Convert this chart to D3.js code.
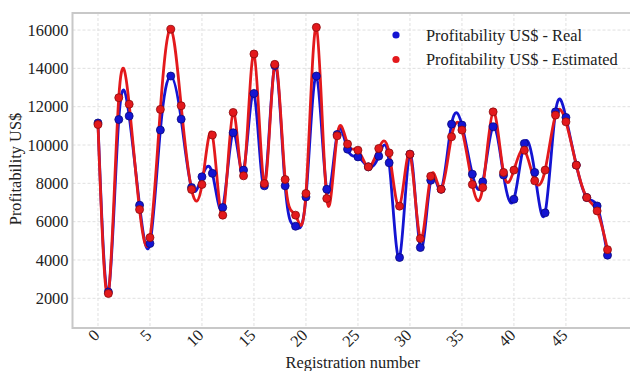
<!DOCTYPE html>
<html>
<head>
<meta charset="utf-8">
<script src="https://cdn.jsdelivr.net/npm/d3@7"></script>
<style>
  html, body { margin: 0; padding: 0; background: #fff; }
  svg { display: block; }
  text { font-family: "Liberation Serif", "Times New Roman", serif; fill: #222; }
</style>
</head>
<body>
<svg id="chart" width="630" height="371"></svg>
<script>
// Registration numbers (x) and profitability per record (US$)
const registration = d3.range(0, 50);
const realProfit = [11150, 2330, 11330, 11510, 6860, 4860, 10780, 13600, 11350, 7780,
                    8340, 8520, 6740, 10640, 8690, 12690, 7870, 14150, 7870, 5760,
                    7290, 13600, 7690, 10550, 9780, 9380, 8860, 9420, 9070, 4130,
                    9520, 4650, 8160, 7690, 11090, 11040, 8480, 8080, 10950, 8430,
                    7170, 10080, 8570, 6460, 11730, 11440, 8950, 7260, 6820, 4250];
const estimatedProfit = [11070, 2250, 12470, 12130, 6630, 5170, 11860, 16040, 12050, 7680,
                         7940, 10520, 6340, 11700, 8390, 14750, 7990, 14210, 8200, 6340,
                         7470, 16140, 7210, 10480, 10050, 9730, 8860, 9820, 9590, 6810,
                         9520, 5120, 8370, 7690, 10430, 10780, 7940, 7780, 11730, 8570,
                         8690, 9730, 8130, 8690, 11560, 11210, 8950, 7260, 6560, 4540];
const xTicks = [0, 5, 10, 15, 20, 25, 30, 35, 40, 45];
const yTicks = [2000, 4000, 6000, 8000, 10000, 12000, 14000, 16000];
const seriesNames = ["Profitability US$ - Real", "Profitability US$ - Estimated"];
const seriesColors = ["#1414d2", "#e3191c"];
const seriesEdges = ["#0a0a7a", "#8a0a0c"];

const svg = d3.select("#chart");
const plot = { left: 72.5, right: 633, top: 13, bottom: 328 };

const x = d3.scaleLinear().domain([-2.45, 51.45]).range([plot.left, plot.right]);
const y = d3.scaleLinear().domain([450, 16890]).range([plot.bottom, plot.top]);

// grid
const grid = svg.append("g");
grid.selectAll("line.gx").data(xTicks).join("line")
  .attr("x1", d => x(d)).attr("x2", d => x(d))
  .attr("y1", plot.top).attr("y2", plot.bottom)
  .attr("stroke", "#dcdcdc").attr("stroke-width", 0.9).attr("stroke-dasharray", "3,2");
grid.selectAll("line.gy").data(yTicks).join("line")
  .attr("x1", plot.left).attr("x2", plot.right)
  .attr("y1", d => y(d)).attr("y2", d => y(d))
  .attr("stroke", "#dcdcdc").attr("stroke-width", 0.9).attr("stroke-dasharray", "3,2");

// axes frame
const frame = svg.append("g").attr("fill", "none").attr("stroke", "#c8c8c8").attr("stroke-width", 2);
frame.append("path").attr("d", `M${plot.right},${plot.top}H${plot.left}V${plot.bottom}H${plot.right}`);

// y tick labels
const yAxis = d3.axisLeft(y).tickValues(yTicks).tickSize(0).tickPadding(4).tickFormat(d3.format("d"));
const gy = svg.append("g").attr("transform", `translate(${plot.left},0)`).call(yAxis);
gy.select(".domain").remove();
gy.selectAll("text").attr("font-size", "16.4px").attr("fill", "#222")
  .style("font-family", '"Liberation Serif", serif');

// x tick labels, rotated
const xAxis = d3.axisBottom(x).tickValues(xTicks).tickSize(0).tickFormat(d3.format("d"));
const gx = svg.append("g").attr("transform", `translate(0,${plot.bottom})`).call(xAxis);
gx.select(".domain").remove();
gx.selectAll(".tick text")
  .attr("font-size", "16.4px").attr("fill", "#222")
  .style("font-family", '"Liberation Serif", serif')
  .attr("text-anchor", "end")
  .attr("dy", "0.35em")
  .attr("transform", "translate(-4,2) rotate(-45)");

// axis titles
svg.append("text").attr("x", (plot.left + plot.right) / 2).attr("y", 368)
  .attr("text-anchor", "middle").attr("font-size", "16.4px").text("Registration number");
svg.append("text").attr("transform", `translate(21,169) rotate(-90)`)
  .attr("text-anchor", "middle").attr("font-size", "16.4px").text("Profitability US$");

// smoothed lines
const series = [realProfit, estimatedProfit];
const line = d3.line().x((d, i) => x(registration[i])).y(d => y(d)).curve(d3.curveNatural);
const lines = svg.append("g").attr("fill", "none").attr("stroke-width", 2.8)
  .attr("stroke-linejoin", "round").attr("stroke-linecap", "round");
series.forEach((s, k) => {
  lines.append("path").attr("d", line(s)).attr("stroke", seriesColors[k]);
});

// markers
series.forEach((s, k) => {
  svg.append("g").selectAll("circle").data(s).join("circle")
    .attr("cx", (d, i) => x(registration[i])).attr("cy", d => y(d)).attr("r", 4)
    .attr("fill", seriesColors[k]).attr("stroke", seriesEdges[k]).attr("stroke-width", 0.8);
});

// legend
const legend = svg.append("g");
seriesNames.forEach((name, k) => {
  const ly = 35 + k * 24.5;
  legend.append("circle").attr("cx", 396).attr("cy", ly).attr("r", 3.6)
    .attr("fill", seriesColors[k]);
  legend.append("text").attr("x", 426).attr("y", ly).attr("dy", "0.35em")
    .attr("font-size", "16.4px").text(name);
});
</script>
</body>
</html>
